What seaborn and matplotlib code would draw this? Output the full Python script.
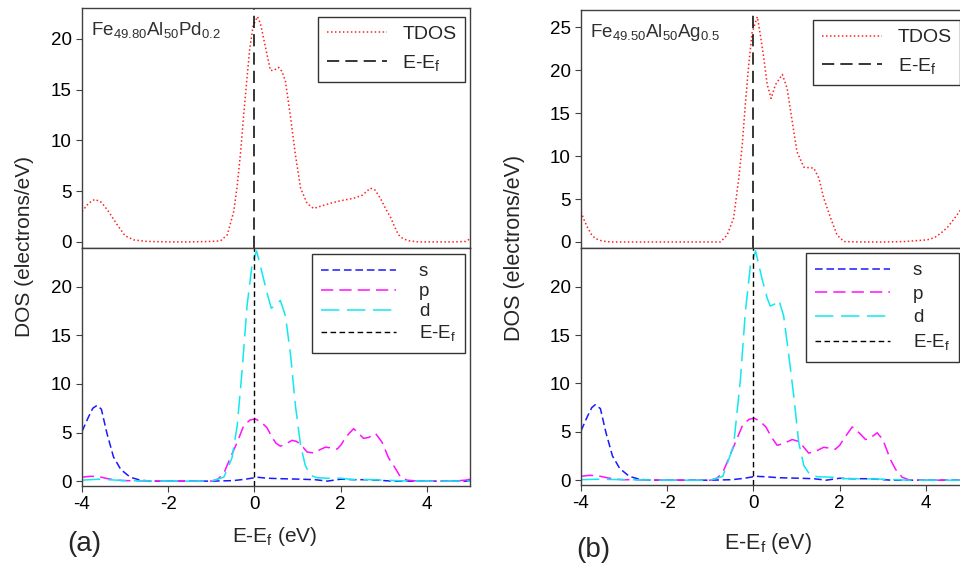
import numpy as np
import pandas as pd
import matplotlib
matplotlib.use("Agg")
import matplotlib.pyplot as plt
import seaborn as sns

# ---------------- data ----------------
# Panel (a): Fe49.80Al50Pd0.2
e_tdos_a = [-4.0, -3.85, -3.7, -3.55, -3.4, -3.2, -3.0, -2.8, -2.5, -2.0, -1.5, -1.0,
            -0.79, -0.63, -0.48, -0.4, -0.32, -0.25, -0.18, -0.11, -0.03, 0.07, 0.14,
            0.21, 0.3, 0.37, 0.45, 0.56, 0.64, 0.72, 0.84, 0.95, 1.07, 1.22, 1.37,
            1.6, 1.84, 2.05, 2.3, 2.5, 2.69, 2.8, 2.92, 3.04, 3.16, 3.25, 3.34, 3.45,
            3.6, 3.8, 4.2, 4.6, 4.9, 5.0]
tdos_a = [3.0, 3.8, 4.2, 3.9, 3.1, 1.8, 0.6, 0.2, 0.05, 0.0, 0.0, 0.05,
          0.1, 0.7, 3.0, 5.5, 8.9, 12.5, 15.8, 19.0, 21.3, 22.2, 21.5,
          20.1, 18.3, 16.9, 16.9, 17.2, 16.8, 15.8, 12.2, 8.6, 5.3, 3.8, 3.3,
          3.6, 3.9, 4.1, 4.3, 4.6, 5.3, 5.1, 4.3, 3.3, 2.4, 1.5, 0.7, 0.3,
          0.1, 0.0, 0.0, 0.0, 0.05, 0.3]

e_s_a = [-4.0, -3.85, -3.75, -3.65, -3.55, -3.42, -3.27, -3.1, -2.88, -2.65, -2.4,
         -1.0, -0.5, -0.2, 0.06, 0.3, 0.6, 1.07, 1.4, 1.69, 2.0, 2.3, 2.6, 2.84,
         3.2, 3.6, 5.0]
s_a = [5.1, 6.6, 7.5, 7.8, 7.4, 4.9, 2.5, 1.2, 0.4, 0.1, 0.0,
       0.0, 0.05, 0.2, 0.4, 0.3, 0.25, 0.2, 0.15, 0.0, 0.2, 0.15, 0.15, 0.1,
       0.0, 0.0, 0.0]

e_p_a = [-4.0, -3.8, -3.6, -3.4, -3.2, -3.0, -2.0, -1.0, -0.85, -0.71, -0.56, -0.4,
         -0.25, -0.1, 0.02, 0.15, 0.29, 0.41, 0.5, 0.6, 0.72, 0.87, 0.97, 1.07,
         1.22, 1.37, 1.5, 1.65, 1.8, 1.92, 2.02, 2.11, 2.3, 2.42, 2.53, 2.65, 2.81,
         2.96, 3.11, 3.27, 3.39, 3.54, 3.8, 4.6, 4.9, 5.0]
p_a = [0.4, 0.5, 0.45, 0.25, 0.1, 0.05, 0.0, 0.0, 0.2, 0.8, 2.4, 4.0,
       5.7, 6.3, 6.4, 6.1, 5.5, 4.5, 3.9, 3.6, 3.8, 4.2, 4.1, 3.8,
       3.0, 2.9, 3.2, 3.5, 3.4, 3.3, 3.8, 4.5, 5.4, 4.9, 4.4, 4.5, 4.9,
       4.0, 2.4, 1.3, 0.4, 0.1, 0.0, 0.0, 0.1, 0.2]

e_d_a = [-4.0, -3.6, -3.0, -2.0, -1.0, -0.71, -0.52, -0.4, -0.29, -0.17, -0.05, 0.05,
         0.18, 0.29, 0.39, 0.49, 0.6, 0.72, 0.84, 0.95, 1.07, 1.18, 1.3, 1.45,
         1.7, 2.0, 2.3, 2.7, 3.0, 3.3, 3.6, 5.0]
d_a = [0.1, 0.2, 0.05, 0.0, 0.0, 0.4, 2.4, 5.7, 11.2, 18.1, 22.5, 23.7,
       21.4, 19.4, 17.8, 18.1, 18.6, 17.0, 12.9, 7.8, 3.7, 1.6, 0.6, 0.35,
       0.3, 0.3, 0.15, 0.15, 0.1, 0.05, 0.0, 0.0]

# Panel (b): Fe49.50Al50Ag0.5
e_tdos_b = [-4.0, -3.93, -3.86, -3.76, -3.67, -3.5, -3.3, -2.5, -1.5, -0.9, -0.77,
            -0.61, -0.46, -0.34, -0.26, -0.19, -0.11, -0.03, 0.09, 0.16, 0.24, 0.32,
            0.41, 0.51, 0.67, 0.78, 0.9, 1.01, 1.17, 1.4, 1.52, 1.63, 1.79, 1.94,
            2.1, 2.5, 3.0, 3.5, 3.9, 4.03, 4.2, 4.34, 4.5, 4.64, 4.8, 5.0]
tdos_b = [3.5, 2.6, 1.8, 0.9, 0.4, 0.1, 0.0, 0.0, 0.0, 0.0, 0.0,
          0.8, 2.8, 7.4, 11.3, 15.9, 20.6, 24.4, 26.2, 24.1, 21.4, 18.3,
          16.7, 18.3, 19.5, 17.9, 14.0, 10.5, 8.7, 8.6, 7.4, 5.1, 2.8, 0.8,
          0.05, 0.0, 0.0, 0.05, 0.2, 0.25, 0.5, 1.0, 1.7, 2.6, 3.7, 5.0]

e_s_b = [-4.0, -3.85, -3.75, -3.67, -3.55, -3.42, -3.27, -3.1, -2.88, -2.65, -2.4,
         -1.0, -0.5, -0.2, 0.05, 0.3, 0.6, 1.07, 1.4, 1.69, 2.0, 2.3, 2.6, 2.84,
         3.2, 3.6, 5.0]
s_b = [5.1, 6.6, 7.5, 7.8, 7.4, 4.9, 2.5, 1.2, 0.4, 0.1, 0.0,
       0.0, 0.05, 0.2, 0.4, 0.35, 0.25, 0.2, 0.15, 0.0, 0.2, 0.15, 0.15, 0.1,
       0.0, 0.0, 0.0]

e_p_b = [-4.0, -3.8, -3.6, -3.4, -3.2, -3.0, -2.0, -1.0, -0.85, -0.71, -0.56, -0.4,
         -0.25, -0.1, 0.02, 0.15, 0.29, 0.41, 0.55, 0.7, 0.9, 1.05, 1.15, 1.28,
         1.45, 1.63, 1.78, 1.9, 2.0, 2.1, 2.29, 2.45, 2.6, 2.72, 2.87, 3.0, 3.18,
         3.3, 3.45, 3.6, 3.8, 4.6, 5.0]
p_b = [0.4, 0.5, 0.45, 0.25, 0.1, 0.05, 0.0, 0.0, 0.2, 0.8, 2.4, 4.1,
       5.7, 6.3, 6.4, 6.1, 5.5, 4.5, 3.6, 3.8, 4.2, 4.0, 3.5, 2.8,
       3.0, 3.4, 3.3, 3.2, 3.6, 4.3, 5.5, 4.9, 4.2, 4.4, 4.9, 4.2, 2.1,
       1.1, 0.3, 0.05, 0.0, 0.0, 0.0]

e_d_b = [-4.0, -3.6, -3.0, -2.0, -1.0, -0.71, -0.46, -0.3, -0.19, -0.07, 0.05,
         0.2, 0.32, 0.39, 0.49, 0.59, 0.7, 0.82, 0.94, 1.05, 1.17, 1.32, 1.5,
         1.86, 2.1, 2.5, 3.0, 3.3, 3.6, 5.0]
d_b = [0.05, 0.1, 0.05, 0.0, 0.0, 0.4, 3.6, 10.5, 17.3, 22.2, 23.7,
       20.8, 18.8, 18.0, 18.2, 18.6, 17.0, 12.9, 8.5, 3.9, 1.5, 0.5, 0.35,
       0.3, 0.15, 0.15, 0.1, 0.05, 0.0, 0.0]

fermi_energy = 0.0
panel_titles = [r"Fe$_{49.80}$Al$_{50}$Pd$_{0.2}$", r"Fe$_{49.50}$Al$_{50}$Ag$_{0.5}$"]
panel_tags = ["(a)", "(b)"]
top_ylims = [(-0.6, 23.05), (-0.7, 27.0)]
top_yticks = [[0, 5, 10, 15, 20], [0, 5, 10, 15, 20, 25]]
bottom_yticks = [0, 5, 10, 15, 20]
x_ticks = [-4, -2, 0, 2, 4]

# ---------------- style ----------------
sns.set_style("ticks")
plt.rcParams["font.family"] = ["Liberation Sans", "DejaVu Sans"]
plt.rcParams["mathtext.fontset"] = "custom"
plt.rcParams["mathtext.rm"] = "Liberation Sans"
plt.rcParams["mathtext.it"] = "Liberation Sans"
plt.rcParams["mathtext.bf"] = "Liberation Sans:bold"
plt.rcParams["axes.edgecolor"] = "#404040"
plt.rcParams["axes.linewidth"] = 1.0
plt.rcParams["axes.unicode_minus"] = False

fig = plt.figure(figsize=(9.6, 5.7), dpi=100)

W = 0.4042
panels = [
    dict(left=0.0854, top_b=0.5649, top_h=0.4211, bot_b=0.1474, bot_h=0.4175),
    dict(left=0.6052, top_b=0.5649, top_h=0.4176, bot_b=0.1491, bot_h=0.4158),
]

data = [
    dict(tdos=(e_tdos_a, tdos_a), s=(e_s_a, s_a), p=(e_p_a, p_a), d=(e_d_a, d_a)),
    dict(tdos=(e_tdos_b, tdos_b), s=(e_s_b, s_b), p=(e_p_b, p_b), d=(e_d_b, d_b)),
]

ef_label = r"E-E$_\mathrm{f}$"
tick_fs = 13.5

for i, (pos, dd) in enumerate(zip(panels, data)):
    ax_t = fig.add_axes([pos["left"], pos["top_b"], W, pos["top_h"]])
    ax_b = fig.add_axes([pos["left"], pos["bot_b"], W, pos["bot_h"]])

    # ---- top: TDOS ----
    df = pd.DataFrame({"E": dd["tdos"][0], "DOS": dd["tdos"][1]})
    sns.lineplot(data=df, x="E", y="DOS", ax=ax_t, color="#ff2020", lw=1.1,
                 linestyle=(0, (1, 1.6)), label="TDOS", sort=False)
    ax_t.axvline(fermi_energy, color="black", lw=1.1, linestyle=(0, (8, 4)), label=ef_label)
    ax_t.set_xlim(-4, 5)
    ax_t.set_ylim(*top_ylims[i])
    ax_t.set_yticks(top_yticks[i])
    ax_t.set_xticks([])
    ax_t.set_xlabel("")
    ax_t.set_ylabel("")
    ax_t.tick_params(axis="y", labelsize=tick_fs, length=4, width=0.8, colors="#404040",
                     labelcolor="black")
    ax_t.text(0.022, 0.948, panel_titles[i], transform=ax_t.transAxes, ha="left",
              va="top", fontsize=13.5, color="#303030")
    if i == 0:
        anchor_t = dict(loc="upper right", bbox_to_anchor=(0.988, 0.963))
    else:
        anchor_t = dict(loc="upper left", bbox_to_anchor=(0.598, 0.958))
    leg = ax_t.legend(fontsize=14, frameon=True, fancybox=False, borderaxespad=0,
                      edgecolor="black", handlelength=3.1, labelspacing=0.5,
                      borderpad=0.45, handletextpad=0.8, **anchor_t)
    leg.get_frame().set_linewidth(1.0)

    # ---- bottom: partial DOS ----
    specs = [("s", "#1a1aff", (0, (5, 2.5))),
             ("p", "#ff10ff", (0, (8, 4))),
             ("d", "#10e8f0", (0, (12, 5)))]
    for name, col, ls in specs:
        dfp = pd.DataFrame({"E": dd[name][0], "DOS": dd[name][1]})
        sns.lineplot(data=dfp, x="E", y="DOS", ax=ax_b, color=col, lw=1.1,
                     linestyle=ls, label=name, sort=False)
    ax_b.axvline(fermi_energy, color="black", lw=1.0, linestyle=(0, (4, 2.5)), label=ef_label)
    ax_b.set_xlim(-4, 5)
    ax_b.set_ylim(-0.5, 24)
    ax_b.set_yticks(bottom_yticks)
    ax_b.set_xticks(x_ticks)
    ax_b.set_xlabel("")
    ax_b.set_ylabel("")
    ax_b.tick_params(axis="both", labelsize=tick_fs, length=4, width=0.8, colors="#404040",
                     labelcolor="black")
    if i == 0:
        anchor_b = dict(loc="upper right", bbox_to_anchor=(0.988, 0.975))
        lsp = 0.15
    else:
        anchor_b = dict(loc="upper left", bbox_to_anchor=(0.58, 0.979))
        lsp = 0.33
    legb = ax_b.legend(fontsize=13.5, frameon=True, fancybox=False, borderaxespad=0,
                       edgecolor="black", handlelength=4.0, labelspacing=lsp,
                       borderpad=0.5, handletextpad=1.2, **anchor_b)
    legb.get_frame().set_linewidth(1.0)

# shared labels
fig.text(0.026, 0.568, "DOS (electrons/eV)", rotation=90, ha="center", va="center",
         fontsize=15)
fig.text(0.536, 0.565, "DOS (electrons/eV)", rotation=90, ha="center", va="center",
         fontsize=15.5)
fig.text(0.286, 0.058, r"E-E$_\mathrm{f}$ (eV)", ha="center", va="center", fontsize=15)
fig.text(0.80, 0.047, r"E-E$_\mathrm{f}$ (eV)", ha="center", va="center", fontsize=15.5)
fig.text(0.088, 0.045, panel_tags[0], ha="center", va="center", fontsize=20)
fig.text(0.618, 0.035, panel_tags[1], ha="center", va="center", fontsize=20)

fig.savefig("out.png", dpi=100)
